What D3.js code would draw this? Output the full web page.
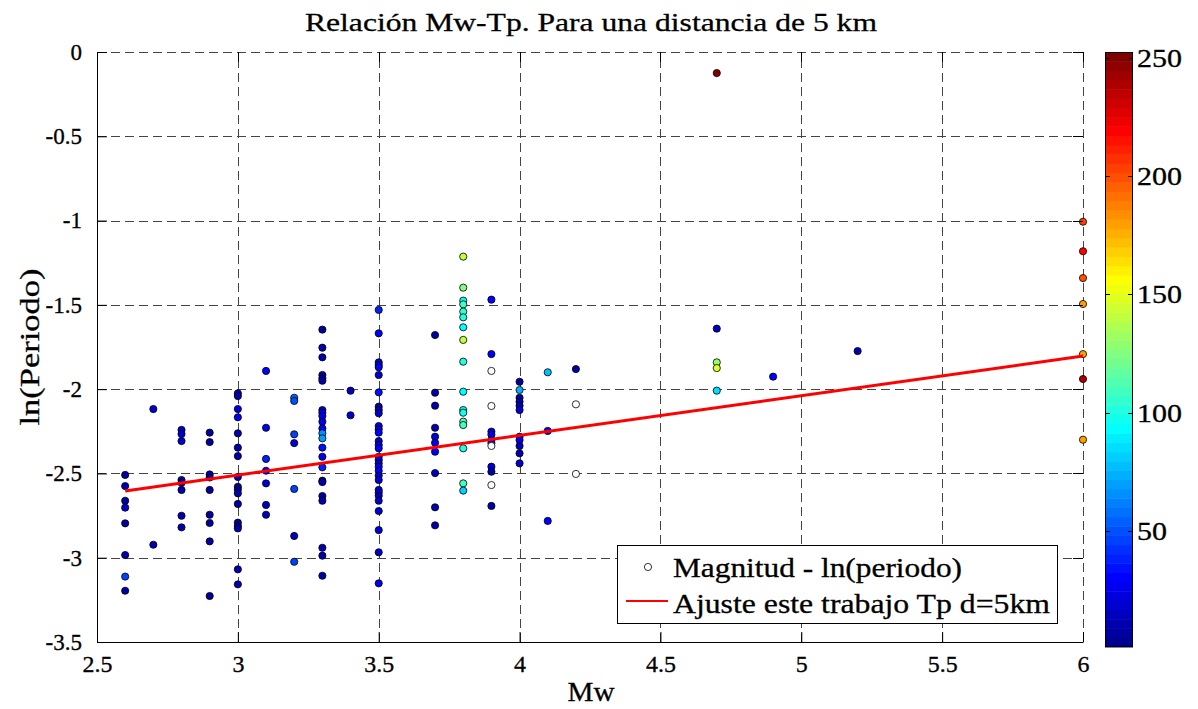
<!DOCTYPE html>
<html>
<head>
<meta charset="utf-8">
<script src="https://cdn.jsdelivr.net/npm/d3@7"></script>
<style>
  body { margin: 0; background: #fff; }
  svg { display: block; }
  text { font-family: "Liberation Serif", "DejaVu Serif", serif; fill: #000; stroke: #000; stroke-width: 0.3px; }
</style>
</head>
<body>
<svg id="chart" width="1198" height="709"></svg>
<script>
// Magnitudes (Mw) with observations
const magnitudes = [2.6, 2.7, 2.8, 2.9, 3.0, 3.1, 3.2, 3.3, 3.4, 3.5, 3.7, 3.8, 3.9, 4.0, 4.1, 4.2, 4.7, 4.9, 5.2, 6.0];

// ln(period) of every record, grouped by magnitude
const lnPeriodo = [
  [-2.509, -2.575, -2.662, -2.703, -2.796, -2.984, -3.112, -3.196],
  [-2.118, -2.923],
  [-2.242, -2.266, -2.308, -2.539, -2.556, -2.598, -2.751, -2.820],
  [-2.258, -2.314, -2.506, -2.524, -2.598, -2.745, -2.794, -2.903, -3.227],
  [-2.025, -2.041, -2.118, -2.167, -2.262, -2.347, -2.397, -2.521, -2.579, -2.595, -2.618, -2.681, -2.792, -2.812, -2.826, -3.069, -3.158],
  [-1.892, -2.229, -2.414, -2.484, -2.559, -2.687, -2.745],
  [-2.051, -2.070, -2.268, -2.320, -2.592, -2.871, -3.024],
  [-1.647, -1.754, -1.811, -1.916, -1.936, -1.950, -2.124, -2.140, -2.159, -2.193, -2.233, -2.262, -2.292, -2.347, -2.401, -2.464, -2.543, -2.551, -2.634, -2.662, -2.941, -2.988, -3.107],
  [-2.009, -2.155],
  [-1.530, -1.669, -1.841, -1.857, -1.870, -1.916, -2.019, -2.104, -2.124, -2.143, -2.219, -2.238, -2.258, -2.308, -2.331, -2.351, -2.401, -2.420, -2.440, -2.460, -2.484, -2.513, -2.539, -2.598, -2.614, -2.632, -2.662, -2.723, -2.836, -2.968, -3.152],
  [-1.679, -2.021, -2.098, -2.229, -2.282, -2.318, -2.371, -2.498, -2.701, -2.808],
  [-1.214, -1.398, -1.475, -1.497, -1.540, -1.574, -1.633, -1.708, -1.837, -2.015, -2.124, -2.140, -2.193, -2.213, -2.351, -2.559, -2.602],
  [-1.469, -1.792, -1.892, -2.100, -2.252, -2.270, -2.302, -2.320, -2.337, -2.460, -2.490, -2.569, -2.693],
  [-1.956, -2.005, -2.051, -2.074, -2.098, -2.124, -2.282, -2.302, -2.337, -2.381, -2.440],
  [-1.900, -2.248, -2.782],
  [-1.881, -2.090, -2.503],
  [-0.125, -1.641, -1.841, -1.875, -2.009],
  [-1.926],
  [-1.774],
  [-1.007, -1.182, -1.341, -1.495, -1.792, -1.940, -2.300]
];

// Colour variable of every record (null = no value, drawn hollow)
const colourValue = [
  [8, 10, 8, 18, 8, 10, 45, 8],
  [18, 12],
  [22, 20, 18, 10, 12, 10, 10, 12],
  [8, 8, 10, 8, 8, 8, 8, 8, 8],
  [15, 10, 22, 25, 10, 12, 10, 10, 12, 8, 10, 8, 8, 10, 12, 10, 10],
  [30, 25, 40, 30, 22, 15, 15],
  [55, 50, 45, 22, 45, 15, 45],
  [8, 10, 10, 12, 10, 10, 20, 25, 28, 25, 30, 65, 70, 35, 28, 40, 8, 10, 8, 10, 10, 12, 10],
  [15, 18],
  [38, 30, 22, 25, 30, 20, 35, 12, 15, 20, 25, 28, 30, 20, 25, 30, 28, 25, 22, 30, 32, 20, 22, 25, 28, 15, 18, 20, 22, 20, 25],
  [8, 10, 12, 12, 22, 28, 30, 15, 10, 12],
  [142, 125, 95, 108, 105, 100, 92, 142, 100, 95, 93, 98, 112, 110, 100, 108, 82],
  [30, 30, null, null, 32, 28, 30, 25, null, 22, 12, null, 10],
  [8, 72, 10, 12, 15, 22, 32, 25, 15, 10, 20],
  [78, 32, 30],
  [8, null, null],
  [250, 15, 130, 150, 85],
  [30],
  [10],
  [205, 218, 198, 180, 178, 238, 178]
];

// Least-squares fit ln(T) = a*Mw + b
const fitSlope = 0.2355;
const fitIntercept = -3.2163;
const fitRange = [2.6, 6.0];

const xTicks = [2.5, 3, 3.5, 4, 4.5, 5, 5.5, 6];
const yTicks = [0, -0.5, -1, -1.5, -2, -2.5, -3, -3.5];
const colourTicks = [50, 100, 150, 200, 250];
const colourDomain = [1, 252.5];

const titleText = "Relación Mw-Tp. Para una distancia de 5 km";
const xLabelText = "Mw";
const yLabelText = "ln(Periodo)";
const legendLabels = ["Magnitud - ln(periodo)", "Ajuste este trabajo Tp d=5km"];

// ---- layout ----
const plot = { left: 97, right: 1083, top: 52, bottom: 642 };
const svg = d3.select("#chart");

const x = d3.scaleLinear().domain([2.5, 6]).range([plot.left, plot.right]);
const y = d3.scaleLinear().domain([-3.5, 0]).range([plot.bottom, plot.top]);

// stretch a text run to a given width (the serif face is narrower than the original one)
function fitWidth(sel, width) {
  sel.attr("textLength", width).attr("lengthAdjust", "spacingAndGlyphs");
}
function widen(sel, factor) {
  sel.each(function () {
    const w = this.getComputedTextLength();
    d3.select(this).attr("textLength", w * factor).attr("lengthAdjust", "spacingAndGlyphs");
  });
}

// MATLAB-style jet colormap with 64 levels
function jet64(i) { // i = 1..64
  const c = v => Math.max(0, Math.min(1, v));
  const r = c(Math.min((i - 24) / 16, (72 - i) / 16));
  const g = c(Math.min((i - 8) / 16, (56 - i) / 16));
  const b = c(Math.min((i + 8) / 16, (40 - i) / 16));
  return d3.rgb(r * 255, g * 255, b * 255).toString();
}
const colourIndex = d3.scaleQuantize().domain(colourDomain).range(d3.range(1, 65));
const colourOf = v => v == null ? "#ffffff" : jet64(colourIndex(Math.max(colourDomain[0], Math.min(colourDomain[1], v))));

// ---- grid ----
const grid = svg.append("g").attr("stroke", "#444").attr("stroke-width", 1)
  .attr("stroke-dasharray", "9,5").attr("shape-rendering", "crispEdges");
xTicks.forEach(t => grid.append("line")
  .attr("x1", Math.round(x(t)) + 0.5).attr("x2", Math.round(x(t)) + 0.5)
  .attr("y1", plot.bottom).attr("y2", plot.top));
yTicks.forEach(t => grid.append("line")
  .attr("y1", Math.round(y(t)) + 0.5).attr("y2", Math.round(y(t)) + 0.5)
  .attr("x1", plot.left).attr("x2", plot.right));

// ---- points ----
const points = [];
magnitudes.forEach((m, i) => lnPeriodo[i].forEach((v, j) => points.push({ m, v, c: colourValue[i][j] })));
svg.append("g").selectAll("circle").data(points).join("circle")
  .attr("cx", d => x(d.m)).attr("cy", d => y(d.v)).attr("r", 3.6)
  .attr("fill", d => colourOf(d.c)).attr("stroke", "#000").attr("stroke-width", 0.8);

// ---- fit line ----
svg.append("line")
  .attr("x1", x(fitRange[0])).attr("y1", y(fitSlope * fitRange[0] + fitIntercept))
  .attr("x2", x(fitRange[1])).attr("y2", y(fitSlope * fitRange[1] + fitIntercept))
  .attr("stroke", "#ff0000").attr("stroke-width", 3);

// ---- axes ----
const fontTick = 23;
const axisX = svg.append("g").attr("transform", `translate(0,${plot.bottom})`)
  .call(d3.axisBottom(x).tickValues(xTicks).tickSizeInner(-10).tickSizeOuter(0).tickPadding(14)
    .tickFormat(d => String(d)));
axisX.attr("font-family", null);
axisX.select(".domain").attr("stroke", "#000");
axisX.selectAll("text").attr("font-size", fontTick);
widen(axisX.selectAll("text"), 1.04);

const axisY = svg.append("g").attr("transform", `translate(${plot.left},0)`)
  .call(d3.axisLeft(y).tickValues(yTicks).tickSizeInner(-10).tickSizeOuter(0).tickPadding(15)
    .tickFormat(d => d === 0 ? "0" : "-" + String(Math.abs(d))));
axisY.attr("font-family", null);
axisY.select(".domain").attr("stroke", "#000");
axisY.selectAll("text").attr("font-size", fontTick);

// ticks on top and right edges
const edgeTicks = svg.append("g").attr("stroke", "#000").attr("stroke-width", 1).attr("shape-rendering", "crispEdges");
xTicks.forEach(t => edgeTicks.append("line")
  .attr("x1", Math.round(x(t)) + 0.5).attr("x2", Math.round(x(t)) + 0.5)
  .attr("y1", plot.top).attr("y2", plot.top + 10));
yTicks.forEach(t => edgeTicks.append("line")
  .attr("y1", Math.round(y(t)) + 0.5).attr("y2", Math.round(y(t)) + 0.5)
  .attr("x1", plot.right - 10).attr("x2", plot.right));

// ---- titles ----
const title = svg.append("text").attr("x", 591).attr("y", 31)
  .attr("text-anchor", "middle").attr("font-size", 26).text(titleText);
fitWidth(title, 572);
const xLabel = svg.append("text").attr("x", 591).attr("y", 701)
  .attr("text-anchor", "middle").attr("font-size", 28).text(xLabelText);
fitWidth(xLabel, 47);
const yLabel = svg.append("text").attr("transform", `translate(39,347) rotate(-90)`)
  .attr("text-anchor", "middle").attr("font-size", 28).text(yLabelText);
fitWidth(yLabel, 157);

// ---- legend ----
const legend = svg.append("g").attr("transform", "translate(617,545)");
legend.append("rect").attr("x", 0.5).attr("y", 0.5).attr("width", 440).attr("height", 78)
  .attr("fill", "#fff").attr("stroke", "#000").attr("stroke-width", 1);
legend.append("circle").attr("cx", 31).attr("cy", 22).attr("r", 3.6)
  .attr("fill", "#fff").attr("stroke", "#000").attr("stroke-width", 0.8);
legend.append("line").attr("x1", 9).attr("x2", 51).attr("y1", 56).attr("y2", 56)
  .attr("stroke", "#ff0000").attr("stroke-width", 2);
fitWidth(legend.append("text").attr("x", 56).attr("y", 32).attr("font-size", 27).text(legendLabels[0]), 289);
fitWidth(legend.append("text").attr("x", 56).attr("y", 68).attr("font-size", 27).text(legendLabels[1]), 377);

// ---- colorbar ----
const cb = { left: 1105, right: 1133, top: 52, bottom: 647 };
const cy = d3.scaleLinear().domain(colourDomain).range([cb.bottom, cb.top]);
const bands = d3.range(1, 65);
const bandH = (cb.bottom - cb.top) / 64;
svg.append("g").selectAll("rect").data(bands).join("rect")
  .attr("x", cb.left).attr("width", cb.right - cb.left)
  .attr("y", d => cb.bottom - d * bandH).attr("height", bandH + 0.5)
  .attr("fill", d => jet64(d));
svg.append("rect").attr("x", cb.left + 0.5).attr("y", cb.top + 0.5)
  .attr("width", cb.right - cb.left - 1).attr("height", cb.bottom - cb.top - 1)
  .attr("fill", "none").attr("stroke", "#000").attr("stroke-width", 1);
const cbTicks = svg.append("g");
colourTicks.forEach(t => {
  const yy = Math.round(cy(t)) + 0.5;
  cbTicks.append("line").attr("x1", cb.left).attr("x2", cb.left + 5).attr("y1", yy).attr("y2", yy).attr("stroke", "#000");
  cbTicks.append("line").attr("x1", cb.right - 5).attr("x2", cb.right).attr("y1", yy).attr("y2", yy).attr("stroke", "#000");
  const lbl = cbTicks.append("text").attr("x", cb.right + 4).attr("y", yy).attr("dy", "0.35em")
    .attr("font-size", 25).text(String(t));
  widen(lbl, 1.2);
});
</script>
</body>
</html>
